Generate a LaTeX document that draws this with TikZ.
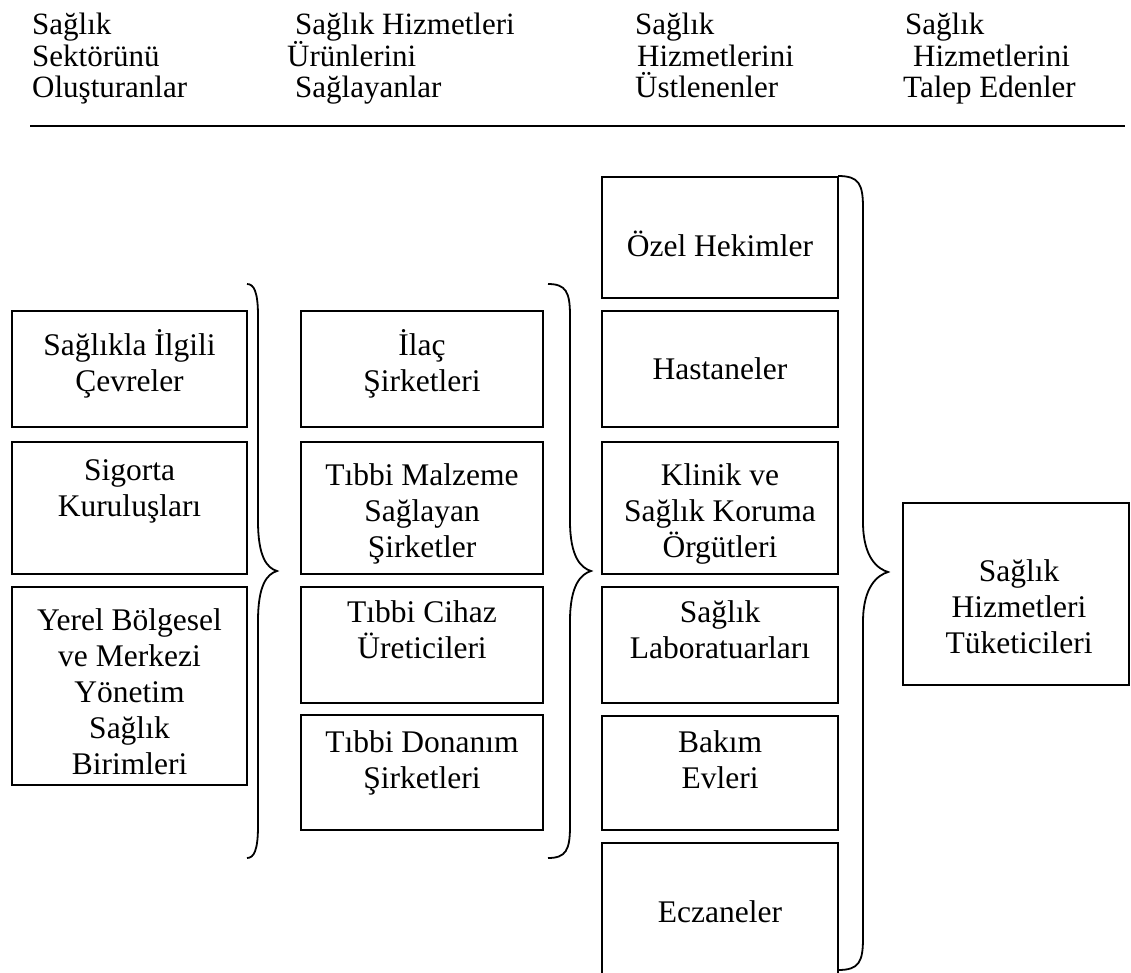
\documentclass[tikz,border=0pt]{standalone}
\usepackage{fontspec}
\setmainfont{Liberation Serif}
\newcommand\boxfont{\fontsize{31.5}{36}\selectfont}
\newcommand\hdfont{\fontsize{31}{32}\selectfont}
\newcommand\fl{\rule{0pt}{30pt}}
% #1 x end, #2 x stem, #3 x tip, #4 y top, #5 y tip, #6 y bottom, #7 name
\newcommand\mybrace[7]{%
  \coordinate (#7-top) at (#1,#4);
  \coordinate (#7-tip) at (#3,#5);
  \coordinate (#7-bot) at (#1,#6);
  \draw[bracest] (#7-top) .. controls (#2-4,#4) and (#2,#4+8) .. (#2,#4+32)
    -- (#2,#5-50) .. controls (#2,#5-14) and (#3-10,#5-3) .. (#7-tip)
    .. controls (#3-10,#5+3) and (#2,#5+14) .. (#2,#5+50)
    -- (#2,#6-32) .. controls (#2,#6-8) and (#2-4,#6) .. (#7-bot);}
\newcommand\bx[5]{\node[boxst, minimum width={#4-#2}, minimum height={#5-#3}] (#1) at ({(#2+#4)/2},{(#3+#5)/2}) {};}
\begin{document}
\begin{tikzpicture}[x=1pt,y=-1pt,
  boxst/.style={draw, line width=1.8pt, inner sep=0pt, outer sep=0pt},
  txt/.style={inner sep=0pt, anchor=north, align=center, font=\boxfont},
  hd/.style={inner sep=0pt, anchor=base west, font=\hdfont},
  bracest/.style={line width=1.8pt},
  rulest/.style={line width=2pt}]
\clip (0,0) rectangle (1131,972);
\fill[white] (0,0) rectangle (1131,972);

% header
\node[hd] (h11) at (32,34) {Sağlık};
\node[hd] (h12) at (32,66) {Sektörünü};
\node[hd] (h13) at (32,97) {Oluşturanlar};
\node[hd] (h21) at (295,34) {Sağlık Hizmetleri};
\node[hd] (h22) at (287,66) {Ürünlerini};
\node[hd] (h23) at (295,97) {Sağlayanlar};
\node[hd] (h31) at (635,34) {Sağlık};
\node[hd] (h32) at (637,66) {Hizmetlerini};
\node[hd] (h33) at (635,97) {Üstlenenler};
\node[hd] (h41) at (905,34) {Sağlık};
\node[hd] (h42) at (913,66) {Hizmetlerini};
\node[hd] (h43) at (903,97) {Talep Edenler};
\coordinate (r1) at (30,126);
\coordinate (r2) at (1125,126);
\draw[rulest] (r1) -- (r2);

% column 1
\bx{c1b1}{12}{311}{247}{427}
\bx{c1b2}{12}{442}{247}{574}
\bx{c1b3}{12}{587}{247}{785}
\node[txt] (t11) at (129.5,325) {\fl Sağlıkla İlgili\\Çevreler};
\node[txt] (t12) at (129.5,450) {\fl Sigorta\\Kuruluşları};
\node[txt] (t13) at (129.5,600) {\fl Yerel Bölgesel\\ve Merkezi\\Yönetim\\Sağlık\\Birimleri};

% column 2
\bx{c2b1}{301}{311}{543}{427}
\bx{c2b2}{301}{442}{543}{574}
\bx{c2b3}{301}{587}{543}{703}
\bx{c2b4}{301}{715}{543}{830}
\node[txt] (t21) at (422,325) {\fl İlaç\\Şirketleri};
\node[txt] (t22) at (422,455) {\fl Tıbbi Malzeme\\Sağlayan\\Şirketler};
\node[txt] (t23) at (422,592) {\fl Tıbbi Cihaz\\Üreticileri};
\node[txt] (t24) at (422,722) {\fl Tıbbi Donanım\\Şirketleri};

% column 3
\bx{c3b1}{602}{177}{838}{298}
\bx{c3b2}{602}{311}{838}{427}
\bx{c3b3}{602}{442}{838}{574}
\bx{c3b4}{602}{587}{838}{703}
\bx{c3b5}{602}{716}{838}{830}
\bx{c3b6}{602}{843}{838}{990}
\node[txt] (t31) at (720,226) {\fl Özel Hekimler};
\node[txt] (t32) at (720,349) {\fl Hastaneler};
\node[txt] (t33) at (720,455) {\fl Klinik ve\\Sağlık Koruma\\Örgütleri};
\node[txt] (t34) at (720,592) {\fl Sağlık\\Laboratuarları};
\node[txt] (t35) at (720,722) {\fl Bakım\\Evleri};
\node[txt] (t36) at (720,892) {\fl Eczaneler};

% column 4
\bx{c4b1}{903}{503}{1129}{685}
\node[txt] (t41) at (1019,551) {\fl Sağlık\\Hizmetleri\\Tüketicileri};

% braces
\mybrace{247}{258}{277}{284}{571}{858}{br1}
\mybrace{548}{570}{591}{284}{571}{858}{br2}
\mybrace{838}{863}{888}{176}{572}{970}{br3}
\end{tikzpicture}
\end{document}
